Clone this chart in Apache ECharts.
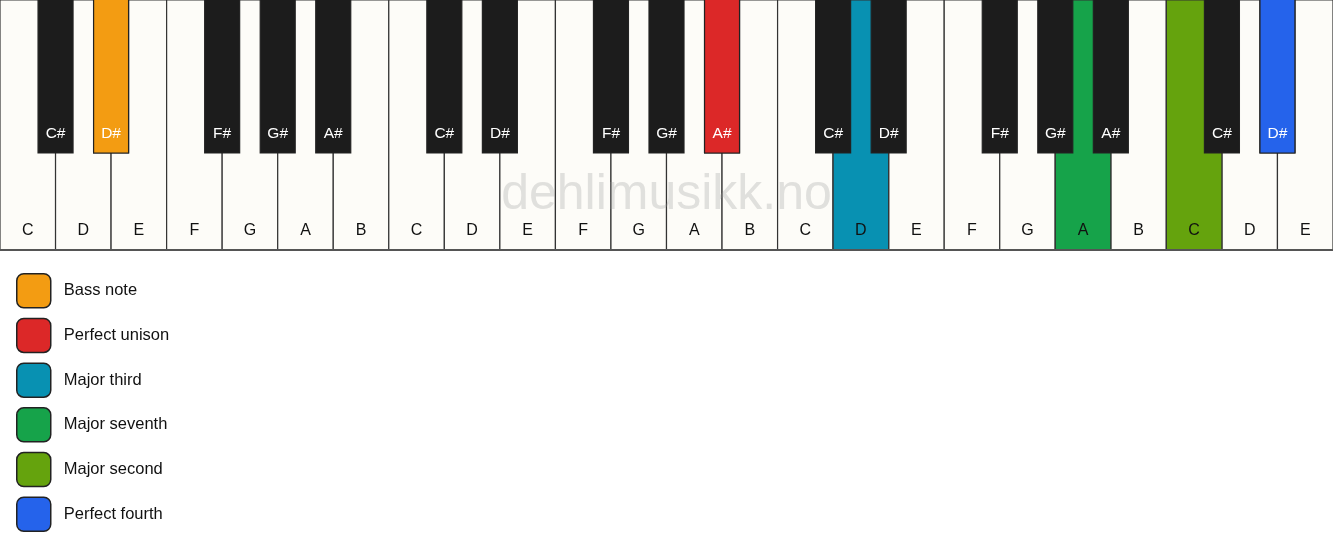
<!DOCTYPE html>
<html>
<head>
<meta charset="utf-8">
<script src="https://cdn.jsdelivr.net/npm/echarts@6/dist/echarts.min.js"></script>
<style>
html,body{margin:0;padding:0;background:#fff;}
#chart{width:1333px;height:550px;}
</style>
</head>
<body>
<div id="chart"></div>
<script>
// ---- data ----
const whiteNotes = ['C','D','E','F','G','A','B','C','D','E','F','G','A','B','C','D','E','F','G','A','B','C','D','E'];
const sharpAfter = { C: 'C#', D: 'D#', F: 'F#', G: 'G#', A: 'A#' };
const legendLabels = ['Bass note','Perfect unison','Major third','Major seventh','Major second','Perfect fourth'];
const legendColors = ['#F39C12','#DC2828','#0891B2','#16A34A','#65A30D','#2563EB'];
// highlighted key: kind ('white' => white key index, 'black' => black key at boundary after white index)
const highlightKind = ['black','black','white','white','white','black'];
const highlightIndex = [1, 12, 15, 19, 21, 22];
const watermark = 'dehlimusikk.no';

// ---- build ----
const whiteData = whiteNotes.map((n, i) => [i, n]);
const blackData = [];
whiteNotes.forEach((n, i) => {
  if (sharpAfter[n] && i < whiteNotes.length - 1) blackData.push([i + 1, sharpAfter[n]]);
});
const KEY_H = 250, BLACK_H = 153, BLACK_W = 0.63;
const FONT = 'Liberation Sans, Arial, sans-serif';

function whiteRender(fillFn) {
  return function (params, api) {
    const i = api.value(0);
    const p0 = api.coord([i, 0]);
    const p1 = api.coord([i + 1, KEY_H]);
    return {
      type: 'group',
      children: [{
        type: 'rect',
        shape: { x: p0[0], y: p0[1], width: p1[0] - p0[0], height: p1[1] - p0[1] },
        style: { fill: fillFn(i), stroke: '#333', lineWidth: 1.2 }
      }, {
        type: 'text',
        style: {
          text: whiteData[i][1], x: (p0[0] + p1[0]) / 2, y: api.coord([0, 231])[1],
          align: 'center', verticalAlign: 'middle', fill: '#111', font: '16px ' + FONT
        }
      }]
    };
  };
}
function blackRender(fillFn) {
  return function (params, api) {
    const b = api.value(0);
    const p0 = api.coord([b - BLACK_W / 2, 0]);
    const p1 = api.coord([b + BLACK_W / 2, BLACK_H]);
    const name = blackData.find(d => d[0] === b)[1];
    return {
      type: 'group',
      children: [{
        type: 'rect',
        shape: { x: p0[0], y: p0[1] - 1, width: p1[0] - p0[0], height: p1[1] - p0[1] + 1 },
        style: { fill: fillFn(b), stroke: '#222', lineWidth: 1.2 }
      }, {
        type: 'text',
        style: {
          text: name, x: (p0[0] + p1[0]) / 2, y: api.coord([0, 134])[1],
          align: 'center', verticalAlign: 'middle', fill: '#fff', font: '15.5px ' + FONT
        }
      }]
    };
  };
}

const series = [
  {
    type: 'custom', name: '_white', z: 2, silent: true,
    data: whiteData.map(d => [d[0]]),
    renderItem: whiteRender(() => '#FDFCF8')
  },
  {
    type: 'custom', name: '_black', z: 4, silent: true,
    data: blackData.map(d => [d[0]]),
    renderItem: blackRender(() => '#1C1C1C')
  }
];
legendLabels.forEach((lab, k) => {
  const kind = highlightKind[k];
  const color = legendColors[k];
  series.push({
    type: 'custom', name: lab, z: kind === 'white' ? 3 : 5, silent: true,
    itemStyle: { color: color },
    data: [[kind === 'white' ? highlightIndex[k] : highlightIndex[k] + 1]],
    renderItem: kind === 'white' ? whiteRender(() => color) : blackRender(() => color)
  });
});
// bottom border line
series.push({
  type: 'custom', name: '_border', z: 6, silent: true,
  data: [[0]],
  renderItem: function (params, api) {
    const a = api.coord([0, KEY_H]);
    const b = api.coord([whiteNotes.length, KEY_H]);
    return { type: 'line', shape: { x1: a[0], y1: a[1], x2: b[0], y2: b[1] }, style: { stroke: '#555', lineWidth: 2 } };
  }
});

const chart = echarts.init(document.getElementById('chart'));
chart.setOption({
  animation: false,
  backgroundColor: '#fff',
  grid: { left: 0, right: 0, top: 0, height: 250 },
  xAxis: { type: 'value', min: 0, max: whiteNotes.length, show: false },
  yAxis: { type: 'value', min: 0, max: KEY_H, inverse: true, show: false },
  legend: {
    data: legendLabels,
    orient: 'vertical', left: 16, top: 273, padding: 0,
    itemWidth: 34, itemHeight: 34, itemGap: 9.2,
    icon: 'path://M7,0 H27 A7,7 0 0 1 34,7 V27 A7,7 0 0 1 27,34 H7 A7,7 0 0 1 0,27 V7 A7,7 0 0 1 7,0 Z',
    itemStyle: { borderColor: '#222', borderWidth: 1.5 },
    textStyle: { fontSize: 16.5, color: '#111', fontFamily: FONT, padding: [0, 0, 0, 8] },
    selectedMode: false
  },
  graphic: [{
    type: 'text', left: 'center', top: 170, z: 100,
    style: { text: watermark, font: '50px ' + FONT, fill: 'rgba(150,150,150,0.28)' }
  }],
  series: series
});
</script>
</body>
</html>
